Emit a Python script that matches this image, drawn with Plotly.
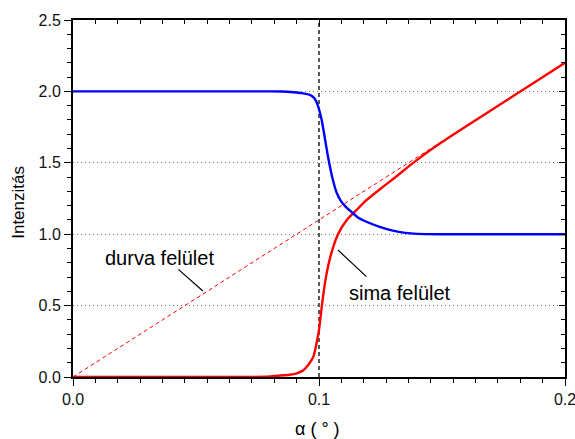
import plotly.graph_objects as go

# Grazing angle (degrees) and intensities
alpha_blue = [0.0, 0.080, 0.085, 0.0896, 0.093, 0.0963, 0.098, 0.099, 0.100, 0.1011,
              0.1025, 0.1038, 0.1055, 0.1072, 0.109, 0.111, 0.1133, 0.116, 0.120,
              0.125, 0.130, 0.135, 0.140, 0.150, 0.200]
intensity_blue = [2.0, 2.0, 1.999, 1.994, 1.988, 1.975, 1.955, 1.925, 1.875, 1.80,
                  1.66, 1.53, 1.39, 1.29, 1.23, 1.19, 1.155, 1.115, 1.082,
                  1.05, 1.025, 1.009, 1.002, 1.0, 1.0]

alpha_smooth = [0.0, 0.070, 0.080, 0.0837, 0.088, 0.091, 0.0935, 0.0956, 0.0977,
                0.099, 0.100, 0.1011, 0.1024, 0.1038, 0.1058, 0.1079, 0.1113,
                0.1153, 0.1194, 0.1261, 0.130, 0.140, 0.150, 0.160, 0.200]
intensity_smooth = [0.0, 0.0, 0.004, 0.009, 0.016, 0.026, 0.045, 0.084, 0.142,
                    0.236, 0.33, 0.49, 0.656, 0.784, 0.912, 1.006, 1.10,
                    1.17, 1.24, 1.333, 1.385, 1.522, 1.645, 1.758, 2.2]

alpha_rough = [0.0, 0.155]
intensity_rough = [0.0, 1.705]

critical_angle = 0.1
y_range = [0.0, 2.5]
x_range = [0.0, 0.2]

x_ticks = [0.0, 0.1, 0.2]
x_tick_text = ["0.0", "0.1", "0.2"]
y_ticks = [0.0, 0.5, 1.0, 1.5, 2.0, 2.5]
y_tick_text = ["0.0", "0.5", "1.0", "1.5", "2.0", "2.5"]

FONT = "Arial, Liberation Sans, sans-serif"

fig = go.Figure()

# critical angle marker
fig.add_trace(go.Scatter(x=[critical_angle, critical_angle], y=y_range, mode="lines",
                         line=dict(color="black", width=1.3, dash="4px,3px"),
                         hoverinfo="skip", showlegend=False))

# rough surface (dashed straight line)
fig.add_trace(go.Scatter(x=alpha_rough, y=intensity_rough, mode="lines",
                         line=dict(color="#ff0000", width=1, dash="4px,3px"),
                         showlegend=False))

# smooth surface
fig.add_trace(go.Scatter(x=alpha_smooth, y=intensity_smooth, mode="lines",
                         line=dict(color="#ff0000", width=2.4, shape="spline", smoothing=0.6),
                         showlegend=False))

# blue curve
fig.add_trace(go.Scatter(x=alpha_blue, y=intensity_blue, mode="lines",
                         line=dict(color="#0000ff", width=2.4, shape="spline", smoothing=0.6),
                         showlegend=False))

# helper trace for the mirrored frame axes (top / right)
fig.add_trace(go.Scatter(x=[x_range[0]], y=[y_range[0]], mode="markers",
                         marker=dict(opacity=0), xaxis="x2", yaxis="y2",
                         hoverinfo="skip", showlegend=False))

axis_common = dict(showline=True, linewidth=2, linecolor="black", zeroline=False,
                   tickcolor="black", tickwidth=1.3, automargin=False,
                   tickfont=dict(family=FONT, size=16, color="#111"))

fig.update_layout(
    width=575, height=439,
    margin=dict(l=73, r=10, t=20, b=62, autoexpand=False),
    paper_bgcolor="white", plot_bgcolor="white",
    xaxis=dict(range=x_range, tickvals=x_ticks, ticktext=x_tick_text,
               ticks="outside", ticklen=7, showgrid=False,
               ticklabeloverflow="allow",
               minor=dict(dtick=0.1 / 11, tick0=0, ticks="outside", ticklen=4,
                          tickcolor="black", tickwidth=1.3, showgrid=False),
               **axis_common),
    yaxis=dict(range=y_range, tickvals=y_ticks, ticktext=y_tick_text,
               ticks="outside", ticklen=7,
               showgrid=True, gridcolor="#777", gridwidth=1, griddash="1px,3px",
               minor=dict(dtick=0.1, tick0=0, ticks="outside", ticklen=4,
                          tickcolor="black", tickwidth=1.3, showgrid=False),
               **axis_common),
    xaxis2=dict(range=x_range, overlaying="x", side="top", anchor="y2",
                tickvals=x_ticks, ticks="inside", ticklen=6, showticklabels=False,
                showgrid=False,
                minor=dict(dtick=0.1 / 11, tick0=0, ticks="inside", ticklen=4,
                           tickcolor="black", tickwidth=1.3, showgrid=False),
                **axis_common),
    yaxis2=dict(range=y_range, overlaying="y", side="right", anchor="x2",
                tickvals=y_ticks, ticks="inside", ticklen=6, showticklabels=False,
                showgrid=False,
                minor=dict(dtick=0.1, tick0=0, ticks="inside", ticklen=4,
                           tickcolor="black", tickwidth=1.3, showgrid=False),
                **axis_common),
    annotations=[
        # axis titles
        dict(text="Intenzitás", xref="paper", yref="paper", x=0, y=0.488,
             xanchor="center", yanchor="middle",
             xshift=-54, textangle=-90, showarrow=False,
             font=dict(family=FONT, size=17, color="black")),
        dict(text="α ( ° )", xref="paper", yref="paper", x=0.497, y=0,
             xanchor="center", yanchor="middle",
             yshift=-52, showarrow=False,
             font=dict(family=FONT, size=18, color="black")),
        # curve labels
        dict(text="durva felület", x=0.035, y=0.833, showarrow=False,
             font=dict(family=FONT, size=20, color="black")),
        dict(text="sima felület", x=0.1329, y=0.588, showarrow=False,
             font=dict(family=FONT, size=20, color="black")),
        # leader lines
        dict(text="", x=0.0528, y=0.602, ax=-26, ay=-23, showarrow=True,
             arrowhead=0, arrowwidth=1.2, arrowcolor="black", standoff=0),
        dict(text="", x=0.1077, y=0.889, ax=30, ay=28, showarrow=True,
             arrowhead=0, arrowwidth=1.2, arrowcolor="black", standoff=0),
    ],
)

fig.write_html("out.html")
